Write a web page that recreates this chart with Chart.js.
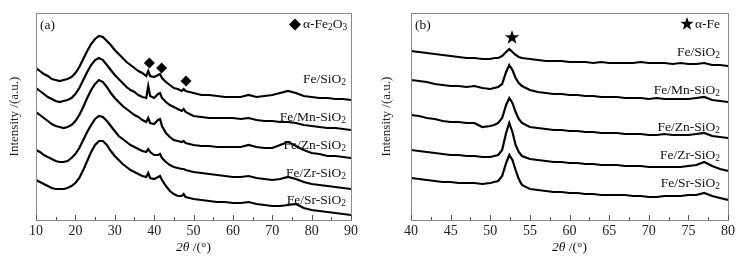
<!DOCTYPE html>
<html>
<head>
<meta charset="utf-8">
<script src="https://cdn.jsdelivr.net/npm/chart.js@4.4.1/dist/chart.umd.min.js"></script>
<style>
html, body { margin: 0; padding: 0; background: #fff; }
#wrap { position: relative; width: 743px; height: 257px; }
#cA { position: absolute; left: 0; top: 0; }
#cB { position: absolute; left: 372px; top: 0; }
</style>
</head>
<body>
<div id="wrap">
  <canvas id="cA" width="372" height="257"></canvas>
  <canvas id="cB" width="371" height="257"></canvas>
</div>
<script>
// sample names (same order in both panels, top to bottom)
var samples = ['Fe/SiO2', 'Fe/Mn-SiO2', 'Fe/Zn-SiO2', 'Fe/Zr-SiO2', 'Fe/Sr-SiO2'];

// ---- panel (a), 2theta 10-90, stacked intensities (a.u.)
var anglesA = [10,11,12,13,14,15,16,17,18,19,20,21,22,23,24,25,26,27,28,29,30,31,32,33,34,35,36,37,38,38.5,39,40,41,41.5,42,43,44,45,46,47,47.5,48,49,50,
  52,54,56,58,60,62,64,66,68,70,72,74,76,78,80,82,84,86,88,90];
var feSiO2A = [152,149,146,144,141,140,139,140,141,143,147,153,161,169,176,181,184,183,179,175,170,166,162,158,155,152,149,147,144,149,144,143,145,146,142,138,135,132,131,129,131,129,128,127,
  125,125,124,123,123,123,125,123,124,125,127,129,127,124,123,122,122,121,121,120];
var feMnA = [132,129,126,123,121,119,118,119,120,122,126,132,140,148,155,160,162,160,155,150,145,141,137,133,130,128,125,123,122,134,124,122,126,127,122,118,115,113,111,109,111,108,106,104,
  103,102,102,102,102,101,102,100,99,99,98,98,97,95,94,93,92,92,91,90];
var feZnA = [108,105,102,99,96,94,93,92,93,95,99,105,113,122,130,136,140,138,133,127,122,118,114,111,108,105,103,100,98,102,97,96,100,101,94,87,83,80,79,78,79,77,76,75,
  74,74,73,73,73,73,75,73,72,72,75,78,74,70,67,66,64,64,63,62];
var feZrA = [70,68,65,63,61,59,58,58,59,62,66,72,80,88,95,101,104,103,99,94,89,84,81,78,75,73,71,69,68,71,68,65,65,66,62,58,55,53,52,51,51,50,49,48,
  47,46,45,44,43,43,44,42,41,40,41,43,41,38,36,35,34,33,32,31];
var feSrA = [40,38,36,34,32,31,31,31,32,34,37,42,50,59,68,75,79,79,75,69,64,60,56,53,50,48,46,44,43,47,42,41,43,44,40,34,29,26,24,24,26,23,22,21,
  20,19,18,18,17,17,18,16,15,14,14,15,16,12,10,9,8,7,6,5];
var labelLevelsA = [141, 103, 75, 47, 20];
// alpha-Fe2O3 reflections marked with diamonds
var hematiteAngles = [38.8, 41.9, 48.1];
var hematiteLevels = [157, 152, 139];

// ---- panel (b), 2theta 40-80
var anglesB = [40,41,42,43,44,45,46,47,48,49,50,50.5,51,51.5,52,52.4,52.8,53.2,53.6,54,
  55,56,57,58,59,60,61,62,63,64,65,66,67,68,69,70,71,72,73,74,75,76,77,78,79,80];
var feSiO2B = [169,168,167,166,165,164,163,162,162,161,161,162,162,164,168,171,168,165,163,162,
  161,160,159,159,159,158,158,158,157,158,157,157,157,157,158,157,157,157,156,157,156,156,157,155,155,154];
var feMnB = [140,139,138,136,135,134,134,133,134,132,131,132,133,136,148,155,150,142,137,134,
  130,128,127,126,126,125,125,124,124,123,123,123,122,122,122,121,122,121,121,121,121,122,123,120,119,118];
var feZnB = [105,104,102,101,99,98,98,97,97,93,94,95,97,102,115,122,117,108,101,97,
  93,92,91,90,90,89,89,88,88,87,87,87,86,86,86,85,85,86,85,85,85,86,87,84,83,82];
var feZrB = [70,69,68,67,66,65,65,64,64,63,63,64,65,70,87,97,88,75,68,64,
  61,60,59,58,58,57,57,56,56,55,55,55,54,54,54,53,53,53,53,53,54,55,58,54,51,49];
var feSrB = [42,41,40,39,38,38,37,37,37,36,37,38,39,44,57,65,60,50,41,35,
  31,30,29,28,28,27,27,26,26,25,25,25,25,24,24,23,23,24,24,24,25,25,27,24,22,20];
var labelLevelsB = [168, 130, 93, 65, 37];
// alpha-Fe reflection marked with a star
var ironAngles = [52.75];
var ironLevels = [183];

var FONT = "'Liberation Serif', 'Times New Roman', serif";

// split "Fe/SiO2" into normal / subscript parts
function parts(str) {
  return str.split(/(\d)/).filter(function (s) { return s.length; })
    .map(function (s) { return [s, /^\d$/.test(s)]; });
}

function drawRich(ctx, p, x, y, size, align) {
  var w = 0;
  p.forEach(function (q) {
    ctx.font = (q[1] ? size * 0.7 : size) + 'px ' + FONT;
    w += ctx.measureText(q[0]).width;
  });
  var cx = align === 'right' ? x - w : x;
  ctx.textAlign = 'left';
  ctx.textBaseline = 'middle';
  p.forEach(function (q) {
    ctx.font = (q[1] ? size * 0.7 : size) + 'px ' + FONT;
    ctx.fillText(q[0], cx, q[1] ? y + 4 : y);
    cx += ctx.measureText(q[0]).width;
  });
}

function starPath(ctx, cx, cy, ro, ri) {
  ctx.beginPath();
  for (var i = 0; i < 10; i++) {
    var r = i % 2 ? ri : ro;
    var a = -Math.PI / 2 + i * Math.PI / 5;
    ctx.lineTo(cx + r * Math.cos(a), cy + r * Math.sin(a));
  }
  ctx.closePath();
}

var starImg = document.createElement('canvas');
starImg.width = 16; starImg.height = 16;
(function () {
  var c = starImg.getContext('2d');
  c.fillStyle = '#000';
  starPath(c, 8, 8.6, 7.6, 3.0);
  c.fill();
})();

var decor = {
  id: 'decor',
  afterDraw: function (chart, args, o) {
    var ctx = chart.ctx, a = chart.chartArea, x = chart.scales.x, y = chart.scales.y;
    ctx.save();
    // frame
    ctx.strokeStyle = '#8a8a8a';
    ctx.lineWidth = 1;
    ctx.strokeRect(Math.round(a.left) + 0.5, Math.round(a.top) + 0.5, Math.round(a.right - a.left), Math.round(a.bottom - a.top));
    // inward ticks
    ctx.strokeStyle = '#555';
    for (var v = x.min; v <= x.max + 1e-9; v += o.minor) {
      var px = Math.round(x.getPixelForValue(v)) + 0.5;
      var r = v / o.major;
      var len = Math.abs(r - Math.round(r)) < 1e-6 ? 5 : 3;
      ctx.beginPath();
      ctx.moveTo(px, a.bottom);
      ctx.lineTo(px, a.bottom - len);
      ctx.stroke();
    }
    ctx.fillStyle = '#111';
    // sample labels
    samples.forEach(function (s, i) {
      drawRich(ctx, parts(s), o.labelX, y.getPixelForValue(o.levels[i]), 13.5, 'right');
    });
    // panel tag
    ctx.font = '13.5px ' + FONT;
    ctx.textAlign = 'left';
    ctx.textBaseline = 'middle';
    ctx.fillText(o.tag, a.left + 4, 25);
    // phase key
    ctx.fillStyle = '#000';
    if (o.key === 'diamond') {
      ctx.beginPath();
      ctx.moveTo(o.keyX, 18.5); ctx.lineTo(o.keyX + 6, 24.5); ctx.lineTo(o.keyX, 30.5); ctx.lineTo(o.keyX - 6, 24.5);
      ctx.closePath(); ctx.fill();
    } else {
      starPath(ctx, o.keyX, 24, 7, 2.8); ctx.fill();
    }
    ctx.fillStyle = '#111';
    drawRich(ctx, parts(o.keyText), o.keyX + 8, 24, 13.5, 'left');
    // x title: italic 2θ then /(°)
    var cx = (a.left + a.right) / 2;
    ctx.font = 'italic 13.5px ' + FONT;
    var w1 = ctx.measureText('2\u03b8').width;
    ctx.font = '13.5px ' + FONT;
    var w2 = ctx.measureText(' /(\u00b0)').width;
    var sx = cx - (w1 + w2) / 2;
    ctx.font = 'italic 13.5px ' + FONT;
    ctx.fillText('2\u03b8', sx, 247);
    ctx.font = '13.5px ' + FONT;
    ctx.fillText(' /(\u00b0)', sx + w1, 247);
    ctx.restore();
  }
};

function makeChart(id, angles, series, xmin, xmax, step, markAngles, markLevels, markStyle, markRadius, leftW, padRight, deco) {
  var sets = series.map(function (vals, i) {
    return {
      label: samples[i],
      data: angles.map(function (t, j) { return { x: t, y: vals[j] }; }),
      borderColor: '#000',
      borderWidth: 2.2,
      pointRadius: 0,
      tension: 0
    };
  });
  sets.push({
    label: 'phase',
    data: markAngles.map(function (t, j) { return { x: t, y: markLevels[j] }; }),
    showLine: false,
    pointStyle: markStyle,
    pointRadius: markRadius,
    backgroundColor: '#000',
    borderColor: '#000',
    borderWidth: 0
  });
  return new Chart(document.getElementById(id), {
    type: 'line',
    data: { datasets: sets },
    options: {
      responsive: false,
      animation: false,
      layout: { padding: { top: 13, right: padRight, left: 0, bottom: 0 } },
      plugins: { legend: { display: false }, tooltip: { enabled: false }, decor: deco },
      scales: {
        x: {
          type: 'linear', min: xmin, max: xmax,
          grid: { display: false, drawTicks: false },
          border: { display: false },
          ticks: { stepSize: step, color: '#222', padding: 3, font: { family: FONT, size: 14 } },
          afterFit: function (s) { s.height = 37; }
        },
        y: {
          min: 0, max: 207,
          grid: { display: false, drawTicks: false },
          border: { display: false },
          ticks: { display: false },
          title: { display: true, text: 'Intensity /(a.u.)', color: '#222', padding: { top: 7, bottom: 0 }, font: { family: FONT, size: 13 } },
          afterFit: function (s) { s.width = leftW; }
        }
      }
    },
    plugins: [decor]
  });
}

makeChart('cA', anglesA, [feSiO2A, feMnA, feZnA, feZrA, feSrA], 10, 90, 10,
  hematiteAngles, hematiteLevels, 'rectRot', 5.5, 36, 21,
  { major: 10, minor: 5, labelX: 346, levels: labelLevelsA, tag: '(a)', key: 'diamond', keyX: 295, keyText: '\u03b1-Fe2O3' });

makeChart('cB', anglesB, [feSiO2B, feMnB, feZnB, feZrB, feSrB], 40, 80, 5,
  ironAngles, ironLevels, starImg, 8, 39, 15,
  { major: 5, minor: 2.5, labelX: 348, levels: labelLevelsB, tag: '(b)', key: 'star', keyX: 315, keyText: '\u03b1-Fe' });
</script>
</body>
</html>
